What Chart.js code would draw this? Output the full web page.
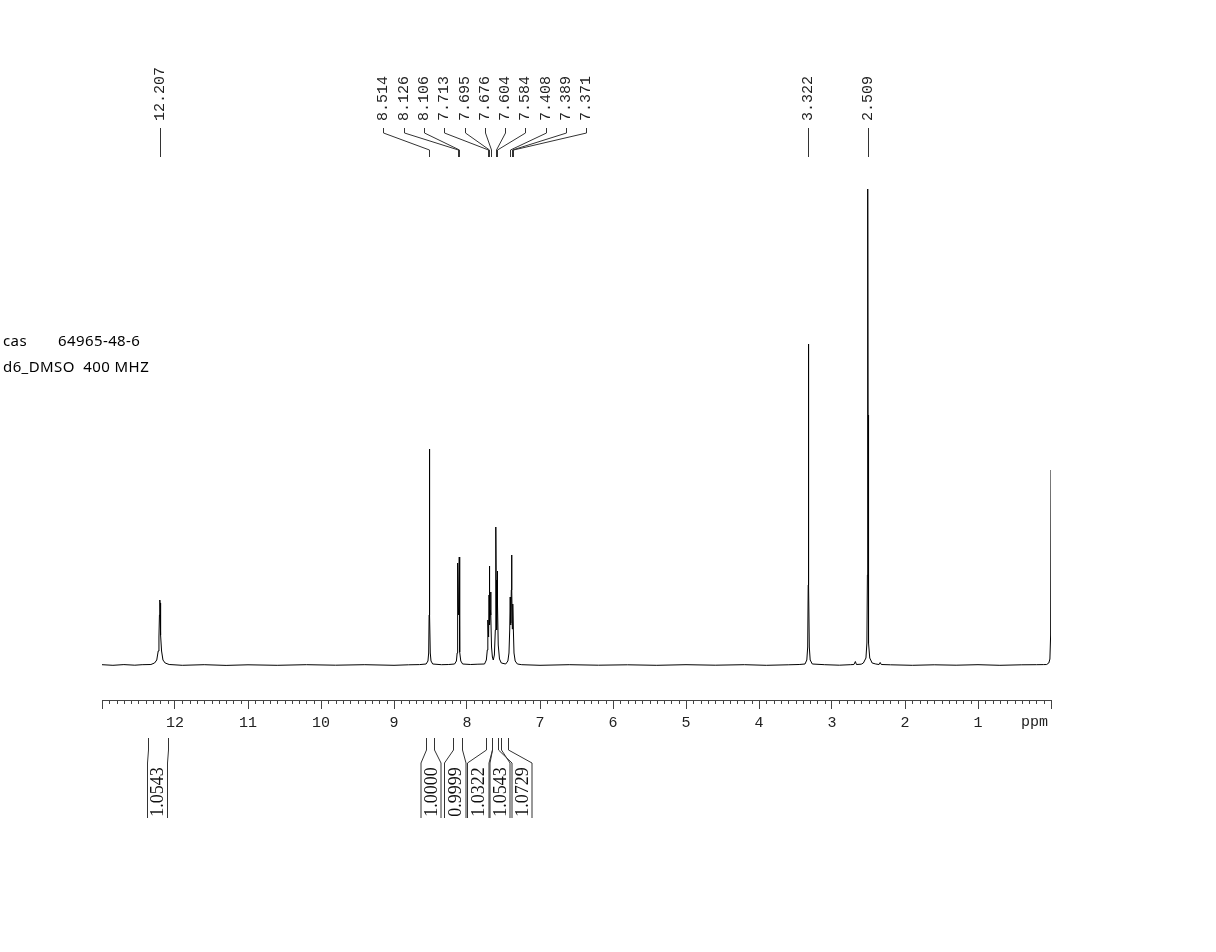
<!DOCTYPE html>
<html>
<head>
<meta charset="utf-8">
<script src="https://cdn.jsdelivr.net/npm/chart.js@4.4.0/dist/chart.umd.min.js"></script>
<style>
html,body{margin:0;padding:0;background:#fff;}
#wrap{position:relative;width:1216px;height:952px;}
canvas{display:block;}
</style>
</head>
<body>
<div id="wrap"><canvas id="c" width="1216" height="952"></canvas></div>
<script>
// ---- spectrum data (ppm, intensity above baseline) ----
const specPpm = [
 13.0, 12.85, 12.7, 12.55, 12.45, 12.33, 12.28, 12.25, 12.23, 12.22, 12.213, 12.209, 12.207, 12.205, 12.201, 12.194, 12.184, 12.165, 12.135, 12.08, 11.9, 11.6, 11.3, 11.0, 10.6, 10.2, 9.8, 9.4, 9.0, 8.8, 8.65,
 8.56, 8.535, 8.525, 8.519, 8.516, 8.514, 8.512, 8.509, 8.503, 8.493, 8.47, 8.35, 8.25,
 8.17, 8.145, 8.135, 8.13, 8.128, 8.126, 8.121, 8.116, 8.111, 8.106, 8.104, 8.101, 8.096, 8.085, 8.06, 7.95, 7.85,
 7.76, 7.735, 7.722, 7.716, 7.713, 7.704, 7.698, 7.695, 7.692, 7.686, 7.679, 7.676, 7.672, 7.664, 7.652, 7.64,
 7.625, 7.612, 7.607, 7.604, 7.600, 7.594, 7.588, 7.584, 7.580, 7.572, 7.555, 7.53, 7.47,
 7.44, 7.425, 7.415, 7.408, 7.403, 7.398, 7.393, 7.389, 7.385, 7.379, 7.375, 7.371, 7.366, 7.356, 7.34, 7.31, 7.25,
 7.0, 6.6, 6.2, 5.8, 5.4, 5.0, 4.6, 4.2, 3.9, 3.6, 3.45,
 3.37, 3.345, 3.333, 3.326, 3.324, 3.322, 3.320, 3.318, 3.311, 3.299, 3.27, 3.1, 2.9, 2.75,
 2.70, 2.68, 2.665, 2.6,
 2.57, 2.535, 2.522, 2.515, 2.512, 2.509, 2.506, 2.503, 2.496, 2.483, 2.45, 2.40,
 2.355, 2.34, 2.325, 2.2, 1.9, 1.6, 1.3, 1.0, 0.7, 0.4, 0.2, 0.1,
 0.06, 0.03, 0.015, 0.005, 0.0
];
const specInt = [
 0.3, -0.3, 0.4, -0.2, 0.3, 0.5, 2, 5, 14, 28, 50, 62, 65, 62, 50, 30, 14, 5, 2, 0.5, -0.3, 0.3, -0.4, 0.2, -0.3, 0.3, -0.2, 0.3, -0.3, 0.2, 0.4,
 1, 4, 12, 50, 150, 216, 150, 50, 12, 4, 1, 0.3, 0.5,
 1, 4, 12, 40, 80, 102, 60, 50, 62, 108, 85, 42, 13, 4, 1, 0.5, 0.8,
 1, 5, 15, 35, 45, 28, 70, 99, 70, 40, 55, 73, 50, 18, 8, 5,
 10, 35, 90, 138, 85, 35, 60, 94, 60, 20, 6, 2, 1,
 4, 12, 35, 68, 40, 42, 75, 110, 75, 36, 45, 61, 38, 12, 4, 1, 0.3,
 -0.3, 0.3, -0.2, 0.2, -0.3, 0.3, -0.2, 0.3, -0.3, 0.2, 0.5,
 1, 5, 18, 80, 200, 321, 200, 80, 18, 5, 1, 0.3, -0.2, 0.3,
 0.5, 3.5, 0.5, 0.8,
 2, 7, 22, 90, 250, 476, 250, 90, 22, 7, 2, 1,
 0.5, 2.5, 0.5, 0.2, -0.3, 0.2, -0.2, 0.3, -0.3, 0.2, 0.3, 0.4,
 0.5, 2, 6, 30, 195
];

// ---- peak labels (ppm) ----
const singlePeakLabels = ['12.207', '3.322', '2.509'];
const clusterPeakLabels = ['8.514', '8.126', '8.106', '7.713', '7.695', '7.676', '7.604', '7.584', '7.408', '7.389', '7.371'];

// ---- integrals ----
const integralValues = ['1.0543', '1.0000', '0.9999', '1.0322', '1.0543', '1.0729'];
const integralFrom   = [12.37, 8.567, 8.192, 7.743, 7.654, 7.578];
const integralTo     = [12.09, 8.453, 8.068, 7.657, 7.534, 7.433];

// ---- axis range ----
const axisMin = 0, axisMax = 13;

const points = specPpm.map((p, i) => ({x: p, y: specInt[i]}));

// layout-only constants for annotations (pixels)
const LAYOUT = {
  labelBottom: 121, leadTop: 128, leadBend: 133, leadKnee: 150, leadBottom: 157,
  clusterStart: 383.3, clusterStep: 20.3,
  intTop: 738, intKnee: 750, intBoxTop: 763, intBottom: 818, intTextY: 792,
  intBoxes: [[147.5,167.5],[421,441],[444.5,466],[467.5,489],[490,510],[512,532]]
};

const MONO = '"Liberation Mono", "Courier New", monospace';
const SERIF = '"Liberation Serif", "Times New Roman", serif';

const annot = {
  id: 'nmrAnnot',
  afterDraw(chart) {
    const ctx = chart.ctx, xs = chart.scales.x, ca = chart.chartArea;
    ctx.save();
    // minor ticks
    ctx.strokeStyle = '#444'; ctx.lineWidth = 1;
    for (let i = 0; i <= 130; i++) {
      if (i % 10 === 0) continue;
      const x = Math.round(xs.getPixelForValue(i / 10)) + 0.5;
      ctx.beginPath(); ctx.moveTo(x, ca.bottom); ctx.lineTo(x, ca.bottom + 4); ctx.stroke();
    }
    // ppm label
    ctx.fillStyle = '#222';
    ctx.font = '15px ' + MONO;
    ctx.textAlign = 'center'; ctx.textBaseline = 'middle';
    ctx.fillText('ppm', xs.getPixelForValue(0) - 16.5, 722);

    // peak labels
    ctx.strokeStyle = '#333';
    const drawRot = (txt, x, y, align) => {
      ctx.save(); ctx.translate(x, y); ctx.rotate(-Math.PI / 2);
      ctx.textAlign = align; ctx.textBaseline = 'middle';
      ctx.fillText(txt, 0, 0); ctx.restore();
    };
    singlePeakLabels.forEach(l => {
      const xp = Math.round(xs.getPixelForValue(parseFloat(l))) + 0.5;
      drawRot(l, xp, LAYOUT.labelBottom, 'left');
      ctx.beginPath(); ctx.moveTo(xp, LAYOUT.leadTop); ctx.lineTo(xp, LAYOUT.leadBottom); ctx.stroke();
    });
    clusterPeakLabels.forEach((l, i) => {
      const xp = Math.round(xs.getPixelForValue(parseFloat(l))) + 0.5;
      const xl = Math.round(LAYOUT.clusterStart + LAYOUT.clusterStep * i) + 0.5;
      drawRot(l, xl, LAYOUT.labelBottom, 'left');
      ctx.beginPath();
      ctx.moveTo(xl, LAYOUT.leadTop); ctx.lineTo(xl, LAYOUT.leadBend);
      ctx.lineTo(xp, LAYOUT.leadKnee); ctx.lineTo(xp, LAYOUT.leadBottom);
      ctx.stroke();
    });

    // integrals
    ctx.font = '18px ' + SERIF;
    ctx.fillStyle = '#111';
    integralValues.forEach((v, i) => {
      const x1 = Math.round(xs.getPixelForValue(integralFrom[i])) + 0.5;
      const x2 = Math.round(xs.getPixelForValue(integralTo[i])) + 0.5;
      const [b1, b2] = LAYOUT.intBoxes[i];
      ctx.beginPath();
      ctx.moveTo(x1, LAYOUT.intTop); ctx.lineTo(x1, LAYOUT.intKnee); ctx.lineTo(b1, LAYOUT.intBoxTop); ctx.lineTo(b1, LAYOUT.intBottom);
      ctx.moveTo(x2, LAYOUT.intTop); ctx.lineTo(x2, LAYOUT.intKnee); ctx.lineTo(b2, LAYOUT.intBoxTop); ctx.lineTo(b2, LAYOUT.intBottom);
      ctx.stroke();
      drawRot(v, (b1 + b2) / 2 + 1, LAYOUT.intTextY, 'center');
    });

    // sample info
    ctx.font = '15px "Noto Sans", sans-serif';
    try { ctx.letterSpacing = '0.4px'; } catch (e) {}
    ctx.fillStyle = '#000';
    ctx.textAlign = 'left'; ctx.textBaseline = 'middle';
    ctx.fillText('cas', 3, 342);
    ctx.fillText('64965-48-6', 58, 342);
    ctx.fillText('d6_DMSO  400 MHZ', 3, 368);
    ctx.restore();
  }
};

function build() {
  new Chart(document.getElementById('c'), {
    type: 'line',
    data: { datasets: [{ data: points, borderColor: '#000', borderWidth: 1, pointRadius: 0, tension: 0, fill: false }] },
    options: {
      responsive: false, animation: false, maintainAspectRatio: false,
      layout: { padding: { left: 102, right: 165, top: 189, bottom: 212 } },
      plugins: { legend: { display: false }, tooltip: { enabled: false } },
      scales: {
        x: {
          type: 'linear', reverse: true, min: axisMin, max: axisMax,
          afterFit(scale) { scale.height = 40; },
          grid: { drawOnChartArea: false, drawTicks: true, tickLength: 9, color: '#444', tickColor: '#444' },
          border: { display: true, color: '#444', width: 1 },
          ticks: {
            stepSize: 1, autoSkip: false, maxRotation: 0, padding: 5, color: '#222',
            font: { family: MONO, size: 15 },
            callback: (v) => (v === 0 || v === 13) ? '' : String(v)
          }
        },
        y: { display: false, min: -35, max: 476 }
      }
    },
    plugins: [annot]
  });
}

Promise.all([
  document.fonts.load('15px "Liberation Mono"'),
  document.fonts.load('18px "Liberation Serif"'),
  document.fonts.load('15px "Noto Sans"')
]).catch(() => {}).then(build, build);
</script>
</body>
</html>
